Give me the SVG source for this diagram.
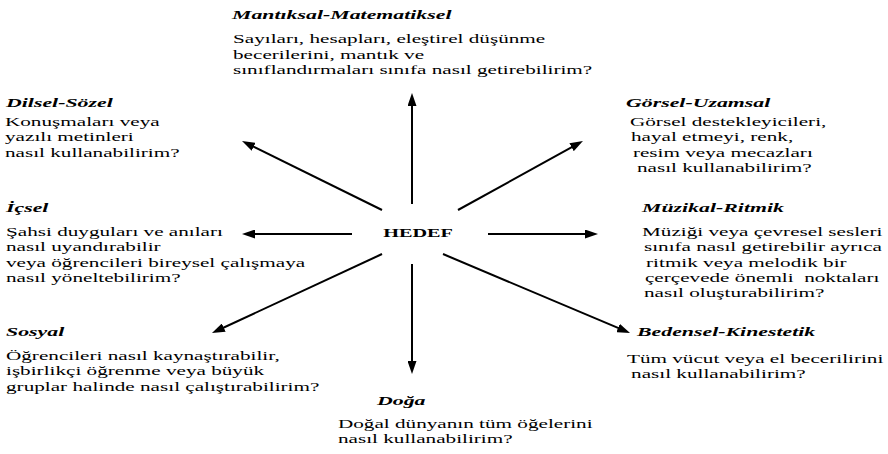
<svg xmlns="http://www.w3.org/2000/svg" width="888" height="454" viewBox="0 0 888 454">
<defs>
<style>
text{font-family:"Liberation Serif","Times New Roman",serif;fill:#000}
.t{font-size:13.4px;font-weight:bold;font-style:italic}
.b{font-size:13px}
.h{font-size:13.5px;font-weight:bold}
.c line{stroke:#000;stroke-width:2;fill:none;marker-end:url(#ah)}
</style>
<marker id="ah" markerUnits="userSpaceOnUse" markerWidth="13" markerHeight="9" viewBox="0 0 13 9" refX="7" refY="4.5" orient="auto">
<path d="M0,0 L13,4.5 L0,9 Z" fill="#000"/>
</marker>
</defs>
<rect width="888" height="454" fill="#fff"/>
<g class="c" id="connectors">
<line x1="412" y1="204" x2="412" y2="99"/>
<line x1="382" y1="210" x2="247.4" y2="143.7"/>
<line x1="458" y1="210" x2="577.7" y2="143.9"/>
<line x1="352" y1="234" x2="248" y2="234"/>
<line x1="488" y1="234" x2="592" y2="234"/>
<line x1="382" y1="254" x2="217.4" y2="330.5"/>
<line x1="412" y1="264" x2="412" y2="368"/>
<line x1="443" y1="254" x2="624.5" y2="330.7"/>
</g>
<g id="hedef">
<text class="h" text-anchor="middle" transform="translate(418,237) scale(1.5,1)">HEDEF</text>
</g>
<g id="mantiksal">
<text class="t" transform="translate(232,19) scale(1.63,1)">Mantıksal-Matematiksel</text>
<text class="b" transform="translate(233,43) scale(1.63,1)"><tspan x="0" y="0">Sayıları, hesapları, eleştirel düşünme</tspan><tspan x="0" y="16">becerilerini, mantık ve</tspan><tspan x="0" y="31">sınıflandırmaları sınıfa nasıl getirebilirim?</tspan></text>
</g>
<g id="dilsel">
<text class="t" transform="translate(6,107) scale(1.63,1)">Dilsel-Sözel</text>
<text class="b" transform="translate(5,126) scale(1.63,1)"><tspan x="0" y="0">Konuşmaları veya</tspan><tspan x="0" y="15.5">yazılı metinleri</tspan><tspan x="0" y="31">nasıl kullanabilirim?</tspan></text>
</g>
<g id="gorsel">
<text class="t" transform="translate(626,107) scale(1.63,1)">Görsel-Uzamsal</text>
<text class="b" transform="translate(630,126) scale(1.63,1)"><tspan x="0" y="0">Görsel destekleyicileri,</tspan><tspan x="0.6" y="15.5">hayal etmeyi, renk,</tspan><tspan x="1.8" y="31">resim veya mecazları</tspan><tspan x="4.3" y="46">nasıl kullanabilirim?</tspan></text>
</g>
<g id="icsel">
<text class="t" transform="translate(6,212) scale(1.63,1)">İçsel</text>
<text class="b" transform="translate(6,236) scale(1.63,1)"><tspan x="0" y="0">Şahsi duyguları ve anıları</tspan><tspan x="0" y="15.5">nasıl uyandırabilir</tspan><tspan x="0" y="31">veya öğrencileri bireysel çalışmaya</tspan><tspan x="0" y="46">nasıl yöneltebilirim?</tspan></text>
</g>
<g id="muzikal">
<text class="t" transform="translate(642,212) scale(1.63,1)">Müzikal-Ritmik</text>
<text class="b" transform="translate(642,236) scale(1.63,1)" xml:space="preserve"><tspan x="0" y="0">Müziği veya çevresel sesleri</tspan><tspan x="1.2" y="15.5">sınıfa nasıl getirebilir ayrıca</tspan><tspan x="2.5" y="31">ritmik veya melodik bir</tspan><tspan x="1.8" y="46">çerçevede önemli  noktaları</tspan><tspan x="1.2" y="61">nasıl oluşturabilirim?</tspan></text>
</g>
<g id="sosyal">
<text class="t" transform="translate(6,336) scale(1.63,1)">Sosyal</text>
<text class="b" transform="translate(6,360) scale(1.63,1)"><tspan x="0" y="0">Öğrencileri nasıl kaynaştırabilir,</tspan><tspan x="0" y="15.5">işbirlikçi öğrenme veya büyük</tspan><tspan x="0" y="31">gruplar halinde nasıl çalıştırabilirim?</tspan></text>
</g>
<g id="bedensel">
<text class="t" transform="translate(637,336) scale(1.63,1)">Bedensel-Kinestetik</text>
<text class="b" transform="translate(627,363) scale(1.63,1)"><tspan x="0" y="0">Tüm vücut veya el becerilirini</tspan><tspan x="2.5" y="15">nasıl kullanabilirim?</tspan></text>
</g>
<g id="doga">
<text class="t" transform="translate(377,405) scale(1.63,1)">Doğa</text>
<text class="b" transform="translate(338,428) scale(1.63,1)"><tspan x="0" y="0">Doğal dünyanın tüm öğelerini</tspan><tspan x="0" y="15.5">nasıl kullanabilirim?</tspan></text>
</g>
</svg>
